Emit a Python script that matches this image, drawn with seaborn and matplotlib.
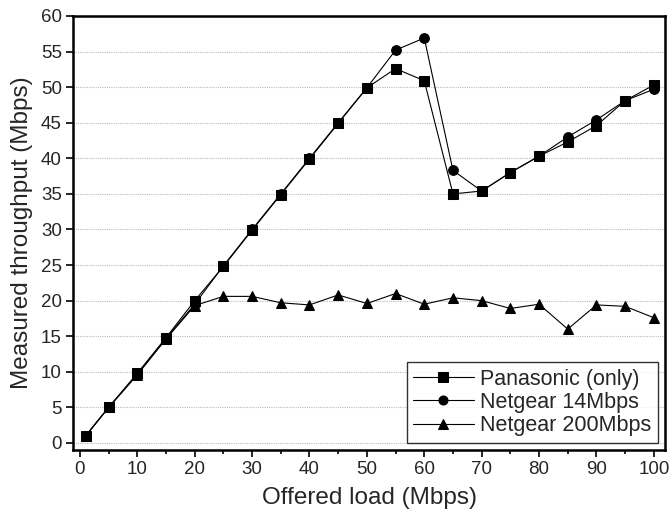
import matplotlib
matplotlib.use("Agg")
import matplotlib.pyplot as plt
import seaborn as sns
import pandas as pd
from matplotlib.ticker import MultipleLocator

load = [1, 5, 10, 15, 20, 25, 30, 35, 40, 45, 50, 55, 60, 65, 70, 75, 80, 85, 90, 95, 100]
panasonic = [1.0, 5.0, 9.8, 14.8, 20.0, 24.8, 29.9, 34.9, 39.9, 44.9, 49.9, 52.6, 50.9, 35.0, 35.4, 38.0, 40.3, 42.3, 44.6, 48.1, 50.3]
netgear14 = [1.0, 5.0, 9.6, 14.7, 19.5, 24.9, 30.0, 35.0, 40.0, 45.0, 49.9, 55.2, 56.9, 38.3, 35.4, 38.0, 40.3, 43.0, 45.4, 48.1, 49.7]
netgear200 = [1.0, 5.0, 9.6, 14.6, 19.3, 20.6, 20.6, 19.7, 19.4, 20.8, 19.6, 21.0, 19.5, 20.4, 20.0, 18.9, 19.5, 16.0, 19.4, 19.2, 17.6]
series_names = ["Panasonic (only)", "Netgear 14Mbps", "Netgear 200Mbps"]

df = pd.concat([
    pd.DataFrame({"load": load, "tp": v, "series": n})
    for v, n in zip([panasonic, netgear14, netgear200], series_names)
])

sns.set_theme(style="white")
plt.rcParams['font.family'] = ['Liberation Sans', 'DejaVu Sans']

fig, ax = plt.subplots(figsize=(6.7, 5.15), dpi=100)
fig.subplots_adjust(left=0.109, right=0.993, top=0.969, bottom=0.126)

sns.lineplot(data=df, x="load", y="tp", hue="series", style="series",
             markers=["s", "o", "^"], dashes=False,
             palette=["black"] * 3, linewidth=0.8, markersize=7,
             markeredgecolor="black", ax=ax, legend=True)

ax.set_xlim(-1.2, 102)
ax.set_ylim(-1, 60)
ax.xaxis.set_major_locator(MultipleLocator(10))
ax.xaxis.set_minor_locator(MultipleLocator(5))
ax.yaxis.set_major_locator(MultipleLocator(5))
ax.tick_params(axis="both", which="major", direction="out", length=5, width=1.2,
               labelsize=13.5, color="black", bottom=True, left=True, pad=3)
ax.tick_params(axis="x", which="minor", direction="out", length=3, width=1.2,
               color="black", bottom=True)
ax.yaxis.grid(True, linestyle=(0, (1, 1)), color="#bbbbbb", linewidth=0.8)
ax.xaxis.grid(False)
for s in ax.spines.values():
    s.set_color("black")
    s.set_linewidth(1.8)

ax.set_xlabel("Offered load (Mbps)", fontsize=17.5, labelpad=6)
ax.set_ylabel("Measured throughput (Mbps)", fontsize=17.5, labelpad=6)

leg = ax.legend(loc="lower right", fontsize=15.5, frameon=True, fancybox=False,
                edgecolor="black", handlelength=2.8, borderpad=0.3,
                labelspacing=0.1, handletextpad=0.3, borderaxespad=0.35)
leg.get_frame().set_linewidth(1.0)
for h in leg.legend_handles:
    h.set_markersize(6.5)

fig.savefig("out.png", dpi=100)
